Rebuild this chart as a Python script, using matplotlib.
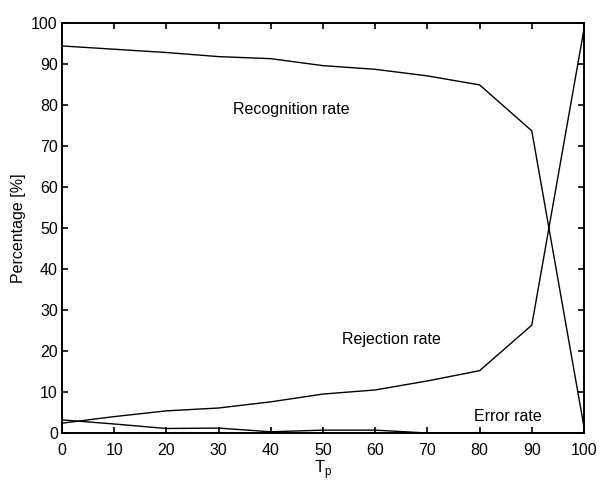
import matplotlib
matplotlib.use("Agg")
import matplotlib.pyplot as plt

plt.rcParams['font.family'] = ['Liberation Sans', 'DejaVu Sans']

tp = [0, 10, 20, 30, 40, 50, 60, 70, 80, 90, 100]
recognition = [94.4, 93.6, 92.8, 91.8, 91.3, 89.6, 88.7, 87.1, 84.9, 73.7, 1.5]
rejection = [2.4, 4.0, 5.4, 6.1, 7.6, 9.5, 10.5, 12.7, 15.2, 26.3, 98.5]
error = [3.2, 2.2, 1.1, 1.2, 0.3, 0.7, 0.7, 0.0, 0.0, 0.0, 0.0]

fig = plt.figure(figsize=(6.0, 4.83), dpi=100)
ax = fig.add_axes([0.1033, 0.1035, 0.87, 0.8489])

for series in (recognition, rejection, error):
    ax.plot(tp, series, color='black', lw=1.0)

ax.text(44, 78.8, 'Recognition rate', ha='center', va='center', fontsize=11.5)
ax.text(63.2, 22.9, 'Rejection rate', ha='center', va='center', fontsize=11.5)
ax.text(85.4, 4.1, 'Error rate', ha='center', va='center', fontsize=11.5)

ax.set_xlim(0, 100)
ax.set_ylim(0, 100)
ax.set_xticks(range(0, 101, 10))
ax.set_yticks(range(0, 101, 10))
ax.tick_params(direction='in', length=4, width=1.2, top=True, right=True,
               labelsize=11.5)
ax.tick_params(axis='x', pad=7)
ax.tick_params(axis='y', pad=3)
for sp in ax.spines.values():
    sp.set_linewidth(1.4)

ax.set_xlabel('T$_\\mathregular{p}$', fontsize=12, labelpad=0.5)
ax.set_ylabel('Percentage [%]', fontsize=11.5, labelpad=4)

fig.savefig('out.png', dpi=100)
